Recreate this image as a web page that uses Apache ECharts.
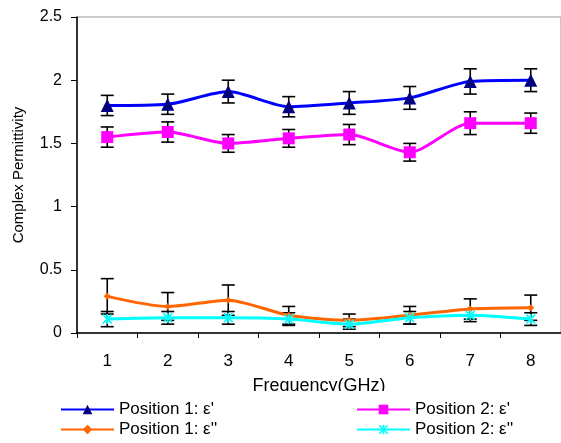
<!DOCTYPE html>
<html>
<head>
<meta charset="utf-8">
<script src="https://cdn.jsdelivr.net/npm/echarts@6/dist/echarts.min.js"></script>
<style>
  html, body { margin: 0; padding: 0; background: #fff; }
  #main { width: 561px; height: 443px; }
</style>
</head>
<body>
<div id="main"></div>
<script>
var categories = ['1', '2', '3', '4', '5', '6', '7', '8'];
var yTicks = [0, 0.5, 1, 1.5, 2, 2.5];

// Position 1: e'
var p1Real    = [1.80, 1.81, 1.91, 1.79, 1.82, 1.86, 1.99, 2.00];
var p1RealErr = [0.08, 0.08, 0.09, 0.08, 0.09, 0.09, 0.10, 0.09];
// Position 2: e'
var p2Real    = [1.55, 1.59, 1.50, 1.54, 1.57, 1.43, 1.66, 1.66];
var p2RealErr = [0.08, 0.08, 0.07, 0.07, 0.08, 0.07, 0.09, 0.08];
// Position 1: e''
var p1Imag    = [0.29, 0.21, 0.26, 0.14, 0.10, 0.14, 0.19, 0.20];
var p1ImagErr = [0.14, 0.11, 0.12, 0.07, 0.05, 0.07, 0.08, 0.10];
// Position 2: e''
var p2Imag    = [0.11, 0.12, 0.12, 0.11, 0.07, 0.12, 0.14, 0.11];
var p2ImagErr = [0.06, 0.05, 0.05, 0.05, 0.04, 0.05, 0.05, 0.05];

var names = ["Position 1: \u03b5'", "Position 2: \u03b5'", "Position 1: \u03b5''", "Position 2: \u03b5''"];
var font = 'Liberation Sans, Arial, sans-serif';
var asterisk = 'path://M4.2,0 L5.8,0 L5.8,10 L4.2,10 Z M0,1.2 L1.2,0 L10,8.8 L8.8,10 Z M8.8,0 L10,1.2 L1.2,10 L0,8.8 Z';

function errData(vals, errs) {
    return vals.map(function (v, i) { return [i, v - errs[i], v + errs[i]]; });
}

function errSeries(vals, errs) {
    return {
        type: 'custom',
        z: 3,
        silent: true,
        data: errData(vals, errs),
        renderItem: function (params, api) {
            var lo = api.coord([api.value(0), api.value(1)]);
            var hi = api.coord([api.value(0), api.value(2)]);
            var w = 6.5;
            var st = { stroke: '#000', lineWidth: 1.6 };
            return {
                type: 'group',
                children: [
                    { type: 'line', shape: { x1: lo[0], y1: lo[1], x2: hi[0], y2: hi[1] }, style: st },
                    { type: 'line', shape: { x1: lo[0] - w, y1: lo[1], x2: lo[0] + w, y2: lo[1] }, style: st },
                    { type: 'line', shape: { x1: hi[0] - w, y1: hi[1], x2: hi[0] + w, y2: hi[1] }, style: st }
                ]
            };
        }
    };
}

function lineSeries(name, vals, color, symbol, size, markColor) {
    return {
        name: name,
        type: 'line',
        z: 4,
        data: vals,
        smooth: 0.25,
        symbol: symbol,
        symbolSize: size,
        lineStyle: { color: color, width: 3 },
        itemStyle: { color: markColor || color },
        emphasis: { disabled: true }
    };
}

function legendAt(left, items, width) {
    return {
        data: items,
        orient: 'vertical',
        left: left, top: 401,
        padding: 0,
        itemWidth: width, itemHeight: 12, itemGap: 3,
        z: 20,
        textStyle: { fontFamily: font, fontSize: 17, lineHeight: 17, color: '#000' }
    };
}

var chart = echarts.init(document.getElementById('main'));
chart.setOption({
    animation: false,
    backgroundColor: '#fff',
    grid: {
        left: 77, top: 17, right: -1, bottom: 110,
        show: true, borderColor: '#999', borderWidth: 1
    },
    xAxis: {
        type: 'category',
        data: categories,
        boundaryGap: true,
        name: 'Frequency(GHz)',
        nameLocation: 'middle',
        nameGap: 44,
        nameTextStyle: { fontFamily: font, fontSize: 18, color: '#000' },
        axisLine: { lineStyle: { color: '#000', width: 1.5 } },
        axisTick: { show: true, length: 5, lineStyle: { color: '#000' } },
        axisLabel: { fontFamily: font, fontSize: 17, color: '#000', margin: 20 },
        splitLine: { show: false }
    },
    yAxis: {
        type: 'value',
        min: yTicks[0],
        max: yTicks[yTicks.length - 1],
        interval: 0.5,
        name: 'Complex Permittivity',
        nameLocation: 'middle',
        nameGap: 51,
        nameTextStyle: { fontFamily: font, fontSize: 15, color: '#000' },
        axisLine: { show: true, lineStyle: { color: '#000', width: 1.5 } },
        axisTick: { show: true, length: 6, lineStyle: { color: '#000' } },
        axisLabel: { fontFamily: font, fontSize: 16, color: '#000', margin: 15 },
        splitLine: { show: false }
    },
    graphic: [{
        type: 'rect',
        z: 10,
        shape: { x: 0, y: 391, width: 561, height: 52 },
        style: { fill: '#fff' }
    }],
    legend: [
        legendAt(60, [names[0], names[2]], 53),
        legendAt(356, [names[1], names[3]], 53)
    ],
    series: [
        errSeries(p1Real, p1RealErr),
        errSeries(p2Real, p2RealErr),
        errSeries(p1Imag, p1ImagErr),
        errSeries(p2Imag, p2ImagErr),
        lineSeries(names[0], p1Real, '#0000ff', 'triangle', 13, '#000080'),
        lineSeries(names[1], p2Real, '#ff00ff', 'rect', 12),
        lineSeries(names[2], p1Imag, '#ff6600', 'diamond', 7),
        lineSeries(names[3], p2Imag, '#00ffff', asterisk, 10)
    ]
});
</script>
</body>
</html>
